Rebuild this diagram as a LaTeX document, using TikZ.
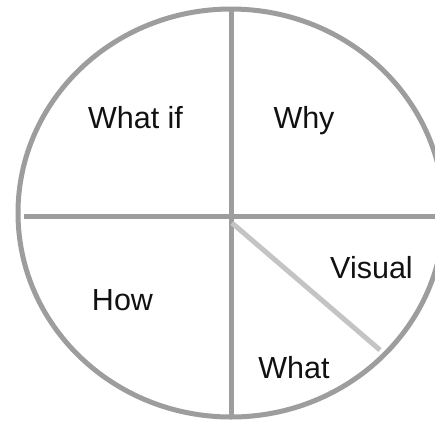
\documentclass[tikz,border=0pt]{standalone}
\usepackage{fontspec}
\setsansfont{Liberation Sans}
\definecolor{wheelgray}{HTML}{9D9D9D}
\definecolor{wheellight}{HTML}{C4C4C4}
\definecolor{wheelink}{HTML}{111111}

\begin{document}
\begin{tikzpicture}[
  x=0.5pt,y=-0.5pt,
  font=\sffamily\fontsize{15.25}{18}\selectfont,
  rim/.style={draw=wheelgray,line width=2.5pt},
  spoke/.style={draw=wheellight,line width=2.5pt},
  word/.style={anchor=base,text=wheelink,inner sep=0pt}
]
  \useasboundingbox (0,0) rectangle (435,420);
  % Outer rim and the two axes.
  \coordinate (centre) at (231,213);
  \draw[rim] (centre) ellipse [x radius=106.5pt, y radius=102pt];
  \coordinate (top) at (231,9);
  \coordinate (bottom) at (231,417);
  \coordinate (west) at (24,216);
  \coordinate (east) at (440,216);
  \coordinate (hub) at (232,223);
  \coordinate (rimpt) at (380,350);
  \draw[rim] (top) -- (bottom);
  \draw[rim] (west) -- (east);
  \draw[spoke] (hub) -- (rimpt);
  % Quadrant words.
  \node[word] (whatif) at (135.5,128) {What if};
  \node[word] (why) at (304,128) {Why};
  \node[word] (visual) at (371.5,278) {Visual};
  \node[word] (how) at (122.5,310) {How};
  \node[word] (what) at (294,378) {What};
\end{tikzpicture}
\end{document}
